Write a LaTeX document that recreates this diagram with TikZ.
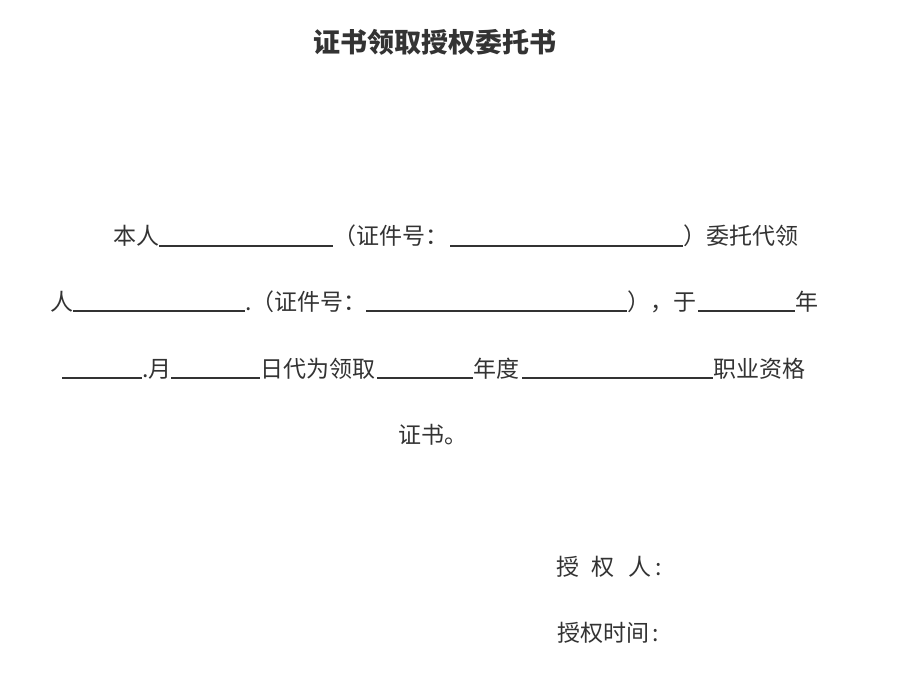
\documentclass[tikz,border=0pt]{standalone}
\usepackage{fontspec}
\setmainfont{Noto Sans CJK SC}
\definecolor{ink}{HTML}{333333}

\begin{document}
\begin{tikzpicture}[x=1pt, y=-1pt,
    txt/.style={anchor=base west, inner sep=0pt, text=ink, font=\fontsize{23pt}{28pt}\selectfont},
    uline/.style={draw=ink, line width=1.8pt}
    ]
    \useasboundingbox [fill=white] (0,0) rectangle (900,687);

    \node [txt, font=\fontsize{27pt}{32pt}\selectfont\bfseries] (t1) at (313,53) {证书领取授权委托书};

    % line 1
    \node [txt] (a1) at (113,245) {本人};
    \node [txt] (a2) at (333,245) {（证件号：};
    \node [txt] (a3) at (683,245) {）委托代领};
    \coordinate (a1u) at (159,246);
    \coordinate (a2u) at (333,246);
    \coordinate (a3u) at (450,246);
    \coordinate (a4u) at (683,246);
    \draw [uline] (a1u) -- (a2u);
    \draw [uline] (a3u) -- (a4u);

    % line 2
    \node [txt] (b1) at (50,310) {人};
    \node [txt] (b2) at (245,310) {.（证件号：};
    \node [txt] (b3) at (627,310) {），于};
    \node [txt] (b4) at (795,310) {年};
    \coordinate (b1u) at (73,311);
    \coordinate (b2u) at (245,311);
    \coordinate (b3u) at (366,311);
    \coordinate (b4u) at (627,311);
    \coordinate (b5u) at (698,311);
    \coordinate (b6u) at (795,311);
    \draw [uline] (b1u) -- (b2u);
    \draw [uline] (b3u) -- (b4u);
    \draw [uline] (b5u) -- (b6u);

    % line 3
    \node [txt] (c1) at (142,377) {.月};
    \node [txt] (c2) at (260,377) {日代为领取};
    \node [txt] (c3) at (473,377) {年度};
    \node [txt] (c4) at (713,377) {职业资格};
    \coordinate (c1u) at (62,378);
    \coordinate (c2u) at (142,378);
    \coordinate (c3u) at (171,378);
    \coordinate (c4u) at (260,378);
    \coordinate (c5u) at (377,378);
    \coordinate (c6u) at (473,378);
    \coordinate (c7u) at (522,378);
    \coordinate (c8u) at (713,378);
    \draw [uline] (c1u) -- (c2u);
    \draw [uline] (c3u) -- (c4u);
    \draw [uline] (c5u) -- (c6u);
    \draw [uline] (c7u) -- (c8u);

    % line 4
    \node [txt] (d1) at (398,443) {证书。};

    % signature
    \node [txt] (e1) at (556,575) {授\hspace{12pt}权\hspace{14pt}人\hspace{4pt}:};
    \node [txt] (e2) at (557,641) {授权时间\hspace{3pt}:};
\end{tikzpicture}
\end{document}
